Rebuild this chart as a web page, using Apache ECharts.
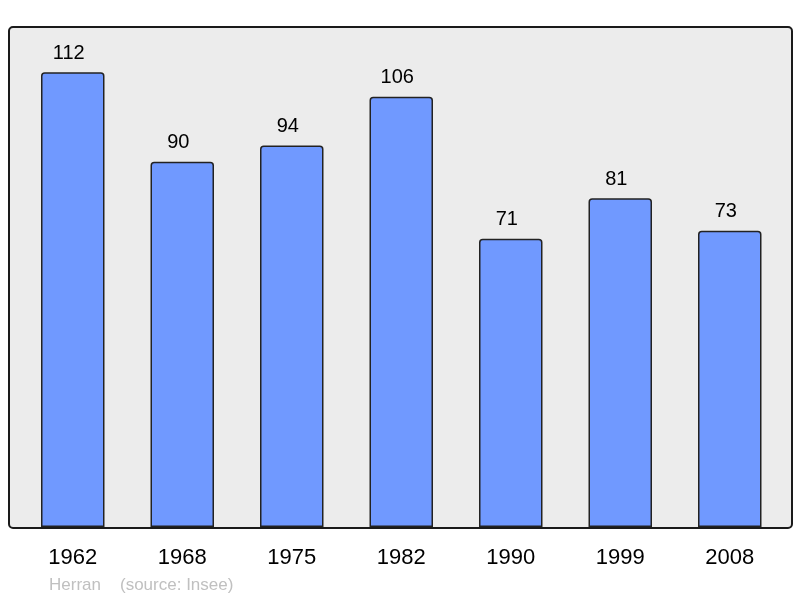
<!DOCTYPE html>
<html><head><meta charset="utf-8">
<script src="https://cdn.jsdelivr.net/npm/echarts@6/dist/echarts.min.js"></script>
<style>html,body{margin:0;padding:0;background:#fff}#c{width:800px;height:598px}</style>
</head><body><div id="c"></div>
<script>
var categories = ['1962','1968','1975','1982','1990','1999','2008'];
var population = [112, 90, 94, 106, 71, 81, 73];
var chart = echarts.init(document.getElementById('c'));
chart.setOption({
  animation: false,
  backgroundColor: '#ffffff',
  graphic: [
    {type:'rect', z: -10, shape:{x:9, y:27, width:783, height:501, r:4},
     style:{fill:'#ececec', stroke:'#1a1a1a', lineWidth:2}},
    {type:'text', left:49, top:577, style:{text:'Herran', fill:'#c0c0c0', font:'17px "Liberation Sans", Arial, sans-serif'}},
    {type:'text', left:120, top:577, style:{text:'(source: Insee)', fill:'#c0c0c0', font:'17px "Liberation Sans", Arial, sans-serif'}}
  ],
  grid: {left:18, right:15.5, top:28.5, bottom:71, containLabel:false},
  xAxis: {
    type:'category', data: categories,
    axisLine:{show:false}, axisTick:{show:false},
    axisLabel:{color:'#000', fontSize:22, margin:20, fontFamily:'"Liberation Sans", Arial, sans-serif'}
  },
  yAxis: {type:'value', min:0, max:122.8, show:false, splitLine:{show:false}},
  series: [{
    type:'bar', data: population, barWidth:63.5,
    itemStyle:{color:'#7099ff', borderColor:'#222', borderWidth:1.5, borderRadius:[3,3,0,0]},
    label:{show:true, position:'top', distance:9, offset:[-4,0], color:'#000', fontSize:20, fontFamily:'"Liberation Sans", Arial, sans-serif'}
  }]
});
</script></body></html>
